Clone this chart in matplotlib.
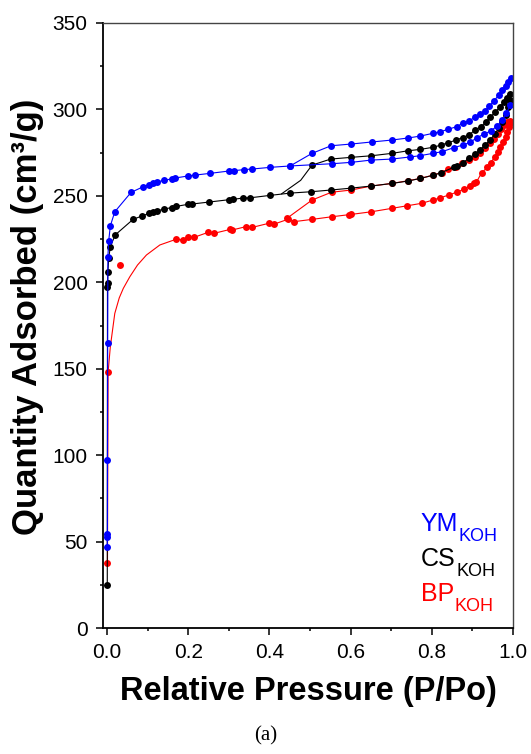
import numpy as np
import matplotlib.pyplot as plt
from matplotlib.ticker import MultipleLocator

plt.rcParams['font.family'] = ['Liberation Sans', 'DejaVu Sans']

# YM_KOH (blue)
ym_ads_x = [0.0005, 0.0007, 0.0008, 0.001, 0.0015, 0.002, 0.004, 0.008, 0.019, 0.059, 0.089,
            0.104, 0.112, 0.123, 0.140, 0.159, 0.167, 0.199, 0.216, 0.253, 0.301, 0.313,
            0.338, 0.356, 0.402, 0.451, 0.554, 0.602, 0.650, 0.702, 0.746, 0.770, 0.803,
            0.826, 0.854, 0.877, 0.894, 0.912, 0.929, 0.945, 0.961, 0.974, 0.984, 0.993]
ym_ads_y = [47.0, 52.8, 54.4, 97.2, 164.7, 214.8, 223.9, 232.6, 240.8, 252.0, 255.3,
            256.5, 257.2, 258.0, 259.0, 259.8, 260.3, 261.5, 262.0, 263.0, 264.4, 264.6,
            265.2, 265.5, 266.5, 267.3, 268.6, 269.4, 270.7, 271.3, 272.5, 273.2, 274.6,
            275.6, 277.9, 279.4, 281.0, 283.7, 285.8, 287.5, 290.4, 293.9, 297.7, 302.6]
ym_des_x = [0.994, 0.989, 0.982, 0.974, 0.965, 0.953, 0.941, 0.932, 0.920, 0.906, 0.891,
            0.876, 0.861, 0.840, 0.821, 0.803, 0.772, 0.742, 0.702, 0.653, 0.602, 0.552,
            0.505, 0.451]
ym_des_y = [318.0, 316.0, 313.7, 311.2, 308.3, 304.9, 302.0, 299.3, 297.3, 295.4, 293.3,
            292.0, 290.0, 288.5, 287.1, 286.2, 284.6, 283.5, 282.3, 281.2, 280.0, 279.0,
            274.6, 267.3]

# CS_KOH (black)
cs_ads_x = [0.0005, 0.001, 0.0012, 0.002, 0.004, 0.008, 0.020, 0.064, 0.085, 0.104, 0.112,
            0.123, 0.140, 0.159, 0.170, 0.199, 0.210, 0.250, 0.301, 0.311, 0.336, 0.353,
            0.402, 0.451, 0.503, 0.552, 0.602, 0.651, 0.702, 0.742, 0.772, 0.803, 0.823,
            0.854, 0.862, 0.877, 0.891, 0.906, 0.918, 0.931, 0.944, 0.955, 0.965, 0.974,
            0.982, 0.989, 0.993]
cs_ads_y = [24.9, 197.5, 199.4, 205.8, 213.9, 220.6, 227.4, 236.4, 238.3, 239.9, 240.7,
            241.2, 242.4, 243.2, 243.9, 245.1, 245.3, 246.4, 247.8, 248.0, 248.8, 248.9,
            250.3, 251.6, 252.4, 253.4, 254.5, 255.7, 257.2, 258.6, 260.1, 261.9, 263.4,
            266.5, 267.3, 269.2, 271.7, 274.0, 276.5, 279.4, 282.3, 285.8, 289.1, 292.9,
            296.8, 301.6, 305.4]
cs_des_x = [0.993, 0.986, 0.977, 0.969, 0.957, 0.944, 0.934, 0.921, 0.907, 0.891, 0.876,
            0.860, 0.841, 0.823, 0.803, 0.772, 0.742, 0.702, 0.651, 0.602, 0.551, 0.505,
            0.477, 0.430]
cs_des_y = [308.9, 306.4, 304.5, 301.6, 298.7, 295.4, 292.9, 290.0, 288.1, 285.2, 283.7,
            282.3, 280.8, 279.4, 278.1, 276.9, 276.1, 274.6, 273.2, 272.3, 271.3, 267.8,
            259.0, 251.2]

# BP_KOH (red)
bp_ads_x = [0.001, 0.0025, 0.033, 0.170, 0.188, 0.200, 0.214, 0.249, 0.263, 0.303, 0.309,
            0.342, 0.358, 0.398, 0.412, 0.445, 0.461, 0.505, 0.553, 0.595, 0.602, 0.651,
            0.702, 0.740, 0.775, 0.803, 0.821, 0.842, 0.861, 0.879, 0.894, 0.904, 0.910,
            0.923, 0.937, 0.946, 0.955, 0.963, 0.969, 0.976, 0.982, 0.986, 0.991, 0.994]
bp_ads_y = [37.8, 147.9, 209.8, 224.9, 224.5, 226.4, 226.0, 228.9, 228.3, 230.6, 230.3,
            232.2, 231.8, 234.1, 233.7, 236.4, 235.1, 236.4, 237.9, 239.1, 239.3, 240.8,
            242.8, 244.3, 245.7, 247.6, 248.9, 250.5, 252.1, 253.8, 255.7, 257.3, 258.0,
            263.4, 266.5, 269.2, 272.7, 275.6, 278.1, 281.3, 284.2, 287.1, 290.0, 292.3]
bp_des_x = [0.992, 0.986, 0.979, 0.971, 0.963, 0.953, 0.943, 0.932, 0.920, 0.906, 0.891,
            0.874, 0.859, 0.841, 0.824, 0.803, 0.772, 0.742, 0.702, 0.651, 0.602, 0.553,
            0.505, 0.443]
bp_des_y = [293.5, 292.9, 291.0, 288.7, 285.8, 282.9, 280.4, 277.5, 275.0, 272.7, 270.7,
            268.8, 266.9, 265.4, 263.5, 262.0, 260.1, 258.8, 257.2, 255.7, 253.4, 252.1,
            247.6, 237.0]
# smooth fitted curve drawn through the low-pressure red region
bp_fit_x = [0.001, 0.0025, 0.008, 0.019, 0.030, 0.040, 0.056, 0.075, 0.097, 0.130, 0.170]
bp_fit_y = [37.8, 147.9, 162.7, 182.0, 191.0, 196.5, 203.2, 210.0, 215.8, 221.6, 224.9]

samples = ['YM', 'CS', 'BP']
sample_colors = ['blue', 'black', 'red']

fig = plt.figure(figsize=(5.31, 7.54), dpi=100)
ax = fig.add_axes([0.194, 0.167, 0.772, 0.8025])

ms = 5.0
lw = 0.8

# red
ax.plot(bp_fit_x, bp_fit_y, '-', color='red', lw=lw)
ax.plot(bp_ads_x[3:], bp_ads_y[3:], '-', color='red', lw=lw)
ax.plot(bp_ads_x, bp_ads_y, 'o', color='red', ms=ms, mec='none')
ax.plot(bp_des_x, bp_des_y, '-o', color='red', lw=lw, ms=ms, mec='none')
# black
ax.plot(cs_ads_x, cs_ads_y, '-o', color='black', lw=lw, ms=ms, mec='none')
ax.plot(cs_des_x[:-2], cs_des_y[:-2], 'o', color='black', ms=ms, mec='none')
ax.plot(cs_des_x, cs_des_y, '-', color='black', lw=lw)
# blue
ax.plot(ym_ads_x, ym_ads_y, '-o', color='blue', lw=lw, ms=ms, mec='none')
ax.plot(ym_des_x, ym_des_y, '-o', color='blue', lw=lw, ms=ms, mec='none')

ax.set_xlim(-0.01, 1.0)
ax.set_ylim(0, 350)
ax.xaxis.set_major_locator(MultipleLocator(0.2))
ax.xaxis.set_minor_locator(MultipleLocator(0.1))
ax.yaxis.set_major_locator(MultipleLocator(50))
ax.yaxis.set_minor_locator(MultipleLocator(25))
ax.xaxis.set_major_formatter(plt.FuncFormatter(lambda v, p: '%.1f' % v))
ax.tick_params(which='major', direction='out', length=5, width=1.1, labelsize=15, pad=6)
ax.tick_params(which='minor', direction='out', length=2.5, width=1.1)
ax.tick_params(top=False, right=False)

for s in ['left', 'bottom']:
    ax.spines[s].set_linewidth(1.3)
for s in ['top', 'right']:
    ax.spines[s].set_linewidth(1.0)
    ax.spines[s].set_color('#444444')

ax.set_xlabel('Relative Pressure (P/Po)', fontsize=23.5, fontweight='bold', labelpad=10)
ax.set_ylabel('Quantity Adsorbed (cm³/g)', fontsize=25, fontweight='bold', labelpad=6)
ax.yaxis.label.set_y(0.515)

# sample labels with subscripts
for i, (name, col) in enumerate(zip(samples, sample_colors)):
    t = ax.text(0.775, 0.16 - i * 0.058, name, transform=ax.transAxes,
                fontsize=18, color=col)
    ax.annotate('KOH', xy=(1, 0), xycoords=t, xytext=(0.5, -6),
                textcoords='offset points', fontsize=13, color=col,
                ha='left', va='bottom')

fig.text(0.5, 0.018, '(a)', ha='center', fontsize=15, family='Liberation Serif')

fig.savefig('out.png', dpi=100)
